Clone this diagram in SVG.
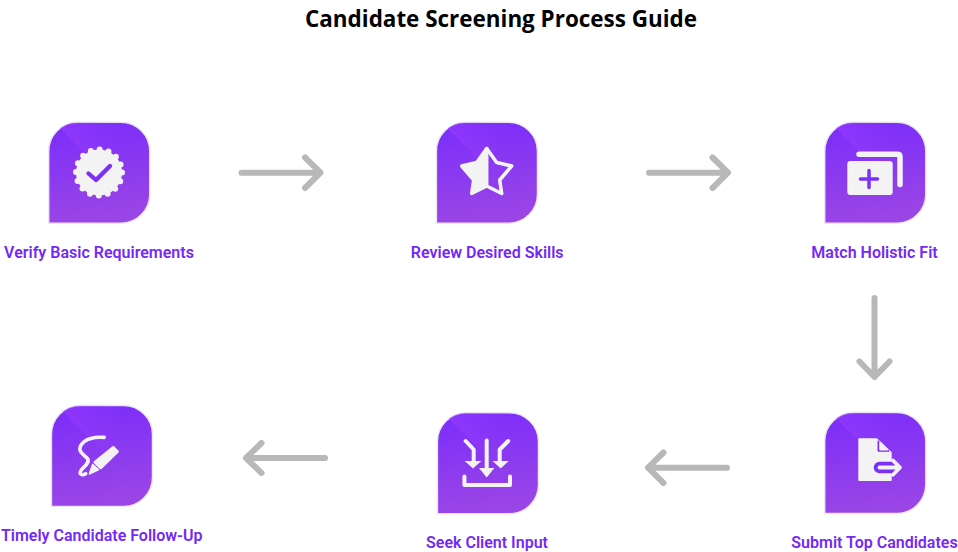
<svg xmlns="http://www.w3.org/2000/svg" width="958" height="552" viewBox="0 0 958 552">
<style>
.bg{fill:url(#g);stroke:#ebe7f1;stroke-width:1.5}
.sh{fill:url(#s)}
.w{fill:#f3f3f3}
.ws{fill:none;stroke:#f3f3f3;stroke-linecap:round;stroke-linejoin:round}
.ps{fill:none;stroke:#7b2ff7;stroke-linecap:round;stroke-linejoin:round}
.lb{font-family:Roboto,"Liberation Sans",sans-serif;font-weight:600;font-size:16px;fill:#7429f5;text-anchor:middle}
.tt{font-family:"Open Sans","Liberation Sans",sans-serif;font-weight:700;font-size:23px;fill:#000;text-anchor:middle}
.ar{fill:none;stroke:#b8b8b8;stroke-width:6;stroke-linecap:round;stroke-linejoin:round}
</style>
<defs>
<linearGradient id="g" x1="0" y1="0" x2="0.15" y2="1"><stop offset="0" stop-color="#7a2cfb"/><stop offset="1" stop-color="#9a45e6"/></linearGradient>
<linearGradient id="s" x1="0.1" y1="0.1" x2="0.7" y2="0.1"><stop offset="0" stop-color="#9a3dff" stop-opacity=".55"/><stop offset="1" stop-color="#9a3dff" stop-opacity="0"/></linearGradient>
<clipPath id="c"><path d="M-.3,100.800V29A29,29 0 0 1 28.700,-.3H71.800A29,29 0 0 1 100.800,29V71.800A29,29 0 0 1 71.800,100.800Z"/></clipPath>
<g id="tile"><path class="bg" d="M-.3,100.800V29A29,29 0 0 1 28.700,-.3H71.800A29,29 0 0 1 100.800,29V71.800A29,29 0 0 1 71.800,100.800Z"/><path class="sh" clip-path="url(#c)" d="M5,0L60,55L100.500,0Z"/></g>
</defs>
<text class="tt" x="501" y="27" textLength="392" lengthAdjust="spacingAndGlyphs">Candidate Screening Process Guide</text>
<g id="connectors">
<path class="ar" d="M241.500,172.700H320M305,157.500L320.500,172.700L305,188"/>
<path class="ar" d="M649,172.700H727.500M712.500,157.500L728,172.700L712.500,188"/>
<path class="ar" d="M874.500,298V376.500M859.500,361.500L874.500,377L889.500,361.500"/>
<path class="ar" d="M727,467.700H648.500M663.500,452.500L648,467.700L663.500,483"/>
<path class="ar" d="M325,458H246.500M261.500,443L246,458L261.500,473"/>
</g>
<g id="node-1" transform="translate(49,122.500)"><use href="#tile"/>
<circle class="w" cx="50" cy="50" r="23"/>
<circle cx="50" cy="50" r="23" fill="none" stroke="#f3f3f3" stroke-width="6" stroke-linecap="round" stroke-dasharray="0 9.032"/>
<path class="ps" stroke-width="4.300" d="M39.500,51L47,57.500L61,43.500"/>
<text class="lb" x="50" y="135.500">Verify Basic Requirements</text></g>
<g id="node-2" transform="translate(436.700,122.500)"><use href="#tile"/>
<path class="w" stroke="#f3f3f3" stroke-width="3.500" stroke-linejoin="round" d="M50,26V63.500L35,71L37,57.500L25,43.500L40,40Z"/>
<path class="ws" stroke-width="3.500" d="M50,26L60,40L75,43.500L63,57.500L65,71L50,63.500"/>
<text class="lb" x="50.500" y="135.500">Review Desired Skills</text></g>
<g id="node-3" transform="translate(825,122.500)"><use href="#tile"/>
<path class="ws" stroke-width="5.500" d="M34,31.700H72.500Q75,31.700 75,34.200V62"/>
<rect class="w" x="22.300" y="38.500" width="45.400" height="34" rx="3"/>
<path class="ps" stroke-width="3.500" d="M35.500,56.500H52.500M44,48V65"/>
<text class="lb" x="49.500" y="135.500">Match Holistic Fit</text></g>
<g id="node-4" transform="translate(825,412.700)"><use href="#tile"/>
<path class="w" stroke="#f3f3f3" stroke-width="2" stroke-linejoin="round" d="M34.300,26.600H51.500L65.700,40V67.300H34.300Z"/>
<path d="M53,28V38.500H64Z" fill="#7b2ff7" stroke="#7b2ff7" stroke-width="1"/>
<path d="M55,29.500V37H62.500Z" class="w" stroke="#f3f3f3" stroke-width="1.500" stroke-linejoin="round"/>
<path class="ps" stroke-width="11.500" d="M54.500,54.800H70"/>
<path class="ws" stroke-width="3.800" d="M54.500,54.800H74.500M68,47.800L75,54.800L68,62"/>
<text class="lb" x="49.500" y="135">Submit Top Candidates</text></g>
<g id="node-5" transform="translate(437.700,413)"><use href="#tile"/>
<path class="ws" stroke-width="4" d="M49,27.500V56M28,28L36,36.500V49M70.500,28L62,36.500V49M26.700,63.500V72H72.300V63.500"/>
<path class="w" d="M41.300,55H56.700L49,64.500ZM27,48H43.600L35.300,55.500ZM55,48H71L63,55.500Z"/>
<text class="lb" x="49.300" y="134.700">Seek Client Input</text></g>
<g id="node-6" transform="translate(51.700,405.700)"><use href="#tile"/>
<path class="ws" stroke-width="3.600" d="M52.500,31.700C44,31 33,32.500 29,40C26,46 32,49 35.500,52.500C39,57 32,61 29.500,64.500C27,68 30,70.500 34,68"/>
<path class="w" stroke="#f3f3f3" stroke-width="2.500" stroke-linejoin="round" d="M61.500,41.500L66,46L49,62.500L43,56.500Z"/>
<path class="w" stroke="#f3f3f3" stroke-width="2" stroke-linejoin="round" d="M41,59L46.500,64L38,68Z"/>
<text class="lb" x="50" y="135">Timely Candidate Follow-Up</text></g>
</svg>
